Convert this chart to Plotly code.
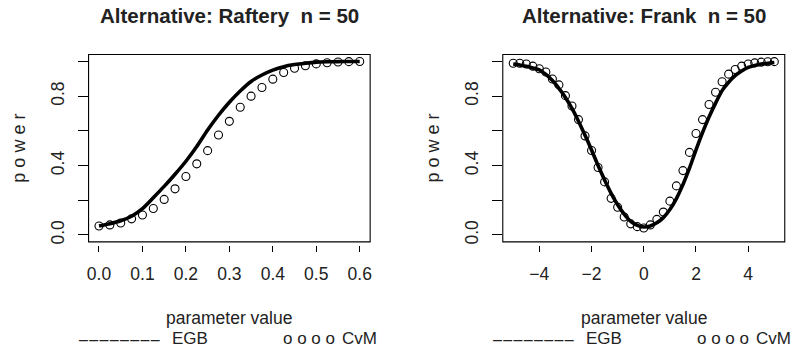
import plotly.graph_objects as go

# ---------------- data ----------------
raftery_x = [0.0, 0.025, 0.05, 0.075, 0.1, 0.125, 0.15, 0.175, 0.2, 0.225, 0.25, 0.275,
             0.3, 0.325, 0.35, 0.375, 0.4, 0.425, 0.45, 0.475, 0.5, 0.525, 0.55, 0.575, 0.6]
raftery_egb = [0.052, 0.065, 0.082, 0.108, 0.152, 0.215, 0.28, 0.35, 0.425, 0.51, 0.605, 0.69,
               0.765, 0.83, 0.885, 0.922, 0.95, 0.97, 0.982, 0.99, 0.996, 0.998, 0.999, 1.0, 1.0]
raftery_cvm = [0.052, 0.058, 0.069, 0.093, 0.115, 0.153, 0.205, 0.266, 0.337, 0.41, 0.486, 0.576,
               0.655, 0.736, 0.80, 0.85, 0.898, 0.936, 0.961, 0.975, 0.986, 0.993, 0.997, 0.999, 1.0]

frank_x = [-5.0, -4.75, -4.5, -4.25, -4.0, -3.75, -3.5, -3.25, -3.0, -2.75, -2.5, -2.25, -2.0,
           -1.75, -1.5, -1.25, -1.0, -0.75, -0.5, -0.25, 0.0, 0.25, 0.5, 0.75, 1.0, 1.25, 1.5,
           1.75, 2.0, 2.25, 2.5, 2.75, 3.0, 3.25, 3.5, 3.75, 4.0, 4.25, 4.5, 4.75, 5.0]
frank_egb = [0.985, 0.980, 0.972, 0.963, 0.952, 0.925, 0.89, 0.845, 0.793, 0.73, 0.656, 0.575, 0.49,
             0.40, 0.317, 0.24, 0.174, 0.12, 0.078, 0.055, 0.046, 0.052, 0.070, 0.10, 0.147, 0.21, 0.29,
             0.385, 0.49, 0.59, 0.68, 0.76, 0.832, 0.88, 0.918, 0.945, 0.966, 0.977, 0.985, 0.99, 0.994]
frank_cvm = [0.990, 0.990, 0.985, 0.973, 0.958, 0.939, 0.899, 0.865, 0.803, 0.743, 0.665, 0.571, 0.487,
             0.389, 0.306, 0.211, 0.160, 0.104, 0.064, 0.048, 0.040, 0.058, 0.090, 0.132, 0.195, 0.283, 0.371,
             0.476, 0.585, 0.665, 0.752, 0.823, 0.883, 0.927, 0.954, 0.973, 0.985, 0.992, 0.996, 0.998, 0.999]

titles = ["Alternative: Raftery\u00a0\u00a0n = 50", "Alternative: Frank\u00a0\u00a0n = 50"]
x_label = "parameter value"
y_label = "p o w e r"
legend_texts = ["\u2013\u200a" * 7 + "\u2013", "EGB", "o o o o", "CvM"]
y_tickvals = [0.0, 0.2, 0.4, 0.6, 0.8, 1.0]
y_ticktext = ["0.0", "", "0.4", "", "0.8", ""]
raftery_xticks = [0.0, 0.1, 0.2, 0.3, 0.4, 0.5, 0.6]
raftery_xticktext = ["0.0", "0.1", "0.2", "0.3", "0.4", "0.5", "0.6"]
frank_xticks = [-4, -2, 0, 2, 4]
frank_xticktext = ["\u22124", "\u22122", "0", "2", "4"]

# ---------------- layout geometry ----------------
W, H = 799, 352
FONT = "Liberation Sans, Arial, Helvetica, sans-serif"
px = lambda v: v / W
py = lambda v: 1 - v / H

box_top, box_bot = 55, 244
legend_x = [76, 170, 281, 341]
legend_size = [16, 17, 17, 17]
panels = [
    dict(x0=87, x1=370, xr=[-0.024, 0.624], xs=raftery_x, egb=raftery_egb, cvm=raftery_cvm,
         tv=raftery_xticks, tt=raftery_xticktext, off=0),
    dict(x0=503.3, x1=786.7, xr=[-5.4, 5.4], xs=frank_x, egb=frank_egb, cvm=frank_cvm,
         tv=frank_xticks, tt=frank_xticktext, off=416),
]

fig = go.Figure()
annotations = []
shapes = []
for i, p in enumerate(panels):
    sfx = "" if i == 0 else "2"
    xa, ya = "x" + sfx, "y" + sfx
    fig.add_trace(go.Scatter(x=p["xs"], y=p["egb"], mode="lines", xaxis=xa, yaxis=ya,
                             line=dict(color="black", width=3.6, shape="spline", smoothing=0.6),
                             showlegend=False, hoverinfo="skip"))
    fig.add_trace(go.Scatter(x=p["xs"], y=p["cvm"], mode="markers", xaxis=xa, yaxis=ya,
                             marker=dict(symbol="circle-open", size=8, color="black",
                                         line=dict(width=1.1, color="black")),
                             showlegend=False, hoverinfo="skip"))
    xkey = "xaxis" + sfx
    ykey = "yaxis" + sfx
    fig.layout[xkey] = dict(domain=[px(p["x0"]), px(p["x1"])], range=p["xr"],
                            anchor="free", position=py(247), showline=False, showgrid=False,
                            zeroline=False, ticks="outside", ticklen=6, tickwidth=1,
                            tickcolor="black", tickvals=p["tv"], ticktext=p["tt"],
                            tickfont=dict(family=FONT, size=17.5, color="#222"),
                            ticklabelstandoff=7)
    fig.layout[ykey] = dict(domain=[py(box_bot), py(box_top)], range=[-0.04, 1.04],
                            anchor=xa, showline=False, showgrid=False, zeroline=False,
                            ticks="outside", ticklen=10, tickwidth=1, tickcolor="black",
                            tickvals=y_tickvals, ticktext=y_ticktext, tickangle=-90,
                            tickfont=dict(family=FONT, size=17.5, color="#222"),
                            ticklabelstandoff=7)
    shapes.append(dict(type="rect", xref=xa + " domain", yref=ya + " domain",
                       x0=0, x1=1, y0=0, y1=1, line=dict(color="black", width=1.1)))
    cx = (p["x0"] + p["x1"]) / 2
    annotations.append(dict(text=titles[i], x=px(cx), y=py(16), xref="paper", yref="paper",
                            showarrow=False, xanchor="center", yanchor="middle",
                            font=dict(family=FONT, size=20.5, color="#222", weight="bold")))
    annotations.append(dict(text=x_label, x=px(cx), y=py(321), xref="paper", yref="paper",
                            showarrow=False, xanchor="center", yanchor="middle", borderpad=0,
                            font=dict(family=FONT, size=17.5, color="#222")))
    annotations.append(dict(text=y_label, x=px(17.5 + p["off"]), y=py(149.5), xref="paper",
                            yref="paper", showarrow=False, xanchor="center", yanchor="middle",
                            textangle=-90, font=dict(family=FONT, size=18, color="#222")))
    for txt, lx, fs in zip(legend_texts, legend_x, legend_size):
        annotations.append(dict(text=txt, x=px(lx + p["off"]), y=0, xref="paper",
                                yref="paper", showarrow=False, xanchor="left", yanchor="bottom",
                                borderpad=0,
                                font=dict(family=FONT, size=fs, color="#222")))

fig.update_layout(width=W, height=H, margin=dict(l=0, r=0, t=0, b=0),
                  paper_bgcolor="white", plot_bgcolor="white",
                  annotations=annotations, shapes=shapes)
fig.write_html("out.html", config={"displayModeBar": False},
               post_script="document.body.style.margin='0';document.body.style.padding='0';")
